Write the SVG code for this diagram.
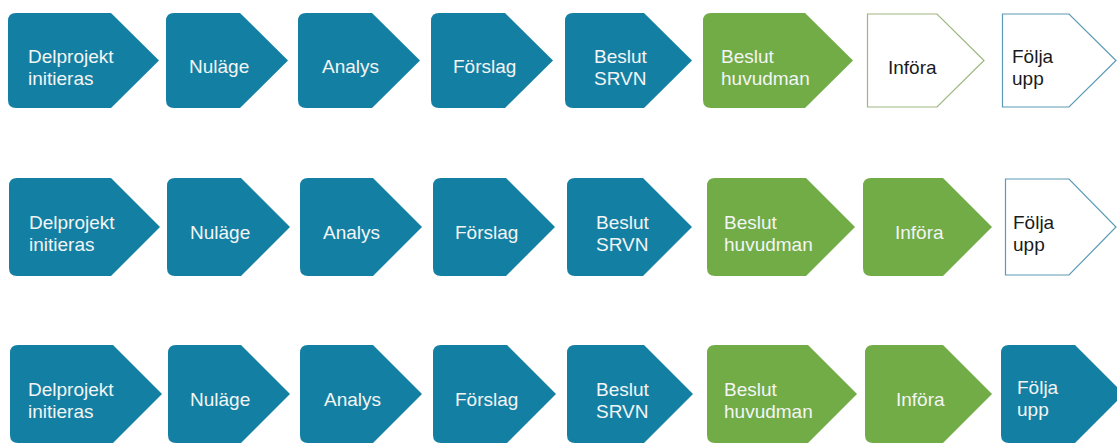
<svg xmlns="http://www.w3.org/2000/svg" width="1117" height="444" viewBox="0 0 1117 444">
<style>
.b{fill:#1380A3}
.g{fill:#71AC47}
.og{fill:#fff;stroke:#9DB77E;stroke-width:1.2}
.ob{fill:#fff;stroke:#5B9AB6;stroke-width:1.2}
text{font-family:"Liberation Sans",Arial,sans-serif;font-size:19px}
.w{fill:#F3F5F5}
.k{fill:#1a1a1a}
</style>
<rect width="1117" height="444" fill="#fff"/>
<g id="connectors"/>
<!-- Row 1 -->
<g id="r1n1"><path class="b" d="M16,13 H111 L159,60.5 L111,108 H16 Q8,108 8,100 V21 Q8,13 16,13 Z"/><text class="w" x="28" y="63">Delprojekt</text><text class="w" x="28" y="85">initieras</text></g>
<g id="r1n2"><path class="b" d="M174,13 H240 L288,60.5 L240,108 H174 Q166,108 166,100 V21 Q166,13 174,13 Z"/><text class="w" x="189" y="73">Nuläge</text></g>
<g id="r1n3"><path class="b" d="M306,13 H372 L420,60.5 L372,108 H306 Q298,108 298,100 V21 Q298,13 306,13 Z"/><text class="w" x="322" y="73">Analys</text></g>
<g id="r1n4"><path class="b" d="M439,13 H505 L553,60.5 L505,108 H439 Q431,108 431,100 V21 Q431,13 439,13 Z"/><text class="w" x="453" y="73">Förslag</text></g>
<g id="r1n5"><path class="b" d="M573,13 H644 L692,60.5 L644,108 H573 Q565,108 565,100 V21 Q565,13 573,13 Z"/><text class="w" x="594" y="63">Beslut</text><text class="w" x="594" y="85">SRVN</text></g>
<g id="r1n6"><path class="g" d="M711,13 H805 L853,60.5 L805,108 H711 Q703,108 703,100 V21 Q703,13 711,13 Z"/><text class="w" x="721" y="63">Beslut</text><text class="w" x="721" y="85">huvudman</text></g>
<g id="r1n7"><path class="og" d="M867.5,14 H937 L984,60.5 L937,107 H867.5 Z"/><text class="k" x="888" y="74">Införa</text></g>
<g id="r1n8"><path class="ob" d="M1002.5,14 H1069 L1116,60.5 L1069,107 H1002.5 Z"/><text class="k" x="1012" y="63">Följa</text><text class="k" x="1012" y="85">upp</text></g>
<!-- Row 2 -->
<g id="r2n1"><path class="b" d="M17,178 H111 L160,227 L111,276 H17 Q9,276 9,268 V186 Q9,178 17,178 Z"/><text class="w" x="29" y="229">Delprojekt</text><text class="w" x="29" y="251">initieras</text></g>
<g id="r2n2"><path class="b" d="M175,178 H241 L290,227 L241,276 H175 Q167,276 167,268 V186 Q167,178 175,178 Z"/><text class="w" x="190" y="239">Nuläge</text></g>
<g id="r2n3"><path class="b" d="M308,178 H373 L422,227 L373,276 H308 Q300,276 300,268 V186 Q300,178 308,178 Z"/><text class="w" x="323" y="239">Analys</text></g>
<g id="r2n4"><path class="b" d="M441,178 H506 L555,227 L506,276 H441 Q433,276 433,268 V186 Q433,178 441,178 Z"/><text class="w" x="455" y="239">Förslag</text></g>
<g id="r2n5"><path class="b" d="M575,178 H643 L692,227 L643,276 H575 Q567,276 567,268 V186 Q567,178 575,178 Z"/><text class="w" x="596" y="229">Beslut</text><text class="w" x="596" y="251">SRVN</text></g>
<g id="r2n6"><path class="g" d="M715,178 H806 L855,227 L806,276 H715 Q707,276 707,268 V186 Q707,178 715,178 Z"/><text class="w" x="724" y="229">Beslut</text><text class="w" x="724" y="251">huvudman</text></g>
<g id="r2n7"><path class="g" d="M871,178 H943 L992,227 L943,276 H871 Q863,276 863,268 V186 Q863,178 871,178 Z"/><text class="w" x="895" y="239">Införa</text></g>
<g id="r2n8"><path class="ob" d="M1005.5,179 H1069 L1116,227 L1069,275 H1005.5 Z"/><text class="k" x="1013" y="229">Följa</text><text class="k" x="1013" y="251">upp</text></g>
<!-- Row 3 -->
<g id="r3n1"><path class="b" d="M18,345 H113 L162,394 L113,443 H18 Q10,443 10,435 V353 Q10,345 18,345 Z"/><text class="w" x="28" y="396">Delprojekt</text><text class="w" x="28" y="418">initieras</text></g>
<g id="r3n2"><path class="b" d="M176,345 H241 L290,394 L241,443 H176 Q168,443 168,435 V353 Q168,345 176,345 Z"/><text class="w" x="190" y="406">Nuläge</text></g>
<g id="r3n3"><path class="b" d="M308,345 H373 L422,394 L373,443 H308 Q300,443 300,435 V353 Q300,345 308,345 Z"/><text class="w" x="324" y="406">Analys</text></g>
<g id="r3n4"><path class="b" d="M441,345 H507 L556,394 L507,443 H441 Q433,443 433,435 V353 Q433,345 441,345 Z"/><text class="w" x="455" y="406">Förslag</text></g>
<g id="r3n5"><path class="b" d="M575,345 H644 L693,394 L644,443 H575 Q567,443 567,435 V353 Q567,345 575,345 Z"/><text class="w" x="596" y="396">Beslut</text><text class="w" x="596" y="418">SRVN</text></g>
<g id="r3n6"><path class="g" d="M715,345 H808 L857,394 L808,443 H715 Q707,443 707,435 V353 Q707,345 715,345 Z"/><text class="w" x="724" y="396">Beslut</text><text class="w" x="724" y="418">huvudman</text></g>
<g id="r3n7"><path class="g" d="M873,345 H943 L992,394 L943,443 H873 Q865,443 865,435 V353 Q865,345 873,345 Z"/><text class="w" x="896" y="406">Införa</text></g>
<g id="r3n8"><path class="b" d="M1009,345 H1075 L1124,394 L1075,443 H1009 Q1001,443 1001,435 V353 Q1001,345 1009,345 Z"/><text class="w" x="1017" y="394">Följa</text><text class="w" x="1017" y="416">upp</text></g>
</svg>
